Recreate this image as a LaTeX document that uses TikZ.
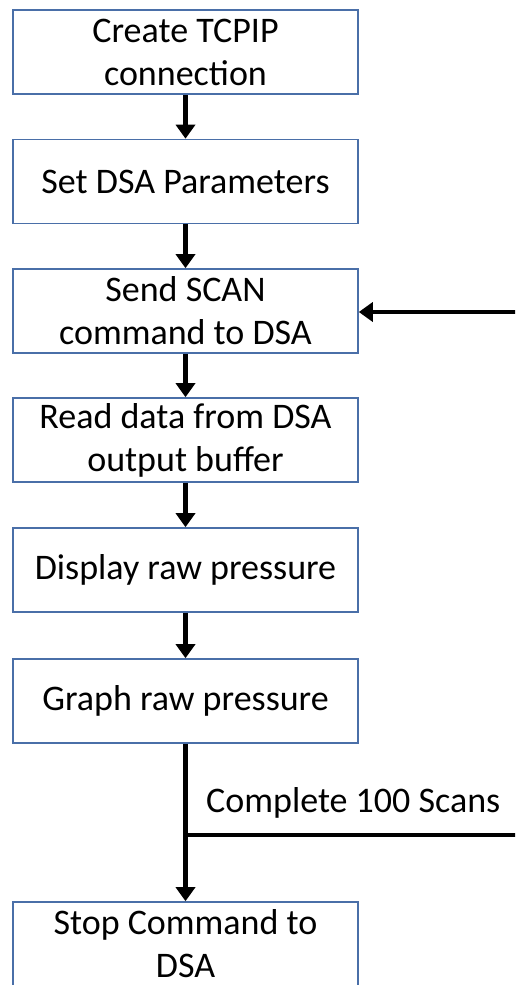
\documentclass[tikz,border=0pt]{standalone}
\usepackage{fontspec}
\setmainfont{Carlito}
\usetikzlibrary{arrows.meta}
\definecolor{boxblue}{HTML}{4A6FA8}
\tikzset{
  stepbox/.style={draw=boxblue, line width=1.6pt, fill=white, minimum width=345pt, minimum height=84pt, align=center, inner sep=0pt, font=\fontsize{36}{43}\selectfont},
  flow/.style={line width=4.5pt, -{Triangle[width=19pt,length=14pt]}},
  plain/.style={line width=4.5pt}
}
\begin{document}
\begin{tikzpicture}[x=1pt,y=-1pt]
\useasboundingbox (0,0) rectangle (515,985);
\clip (0,0) rectangle (515,985);
\node[stepbox] (b1) at (185.5,52) {Create TCPIP\\connection};
\node[stepbox] (b2) at (185.5,181.5) {Set DSA Parameters};
\node[stepbox] (b3) at (185.5,311) {Send SCAN\\command to DSA};
\node[stepbox] (b4) at (185.5,440) {Read data from DSA\\output buffer};
\node[stepbox] (b5) at (185.5,570) {Display raw pressure};
\node[stepbox] (b6) at (185.5,701) {Graph raw pressure};
\node[stepbox] (b7) at (185.5,944) {Stop Command to\\DSA};
\coordinate (split) at (185.5,835);
\coordinate (rbot) at (520,835);
\coordinate (rtop) at (520,312);
\node[anchor=west, font=\fontsize{36}{43}\selectfont, inner sep=0pt] (lbl) at (206,803) {Complete 100 Scans};
\draw[flow] (b1) -- (b2);
\draw[flow] (b2) -- (b3);
\draw[flow] (b3) -- (b4);
\draw[flow] (b4) -- (b5);
\draw[flow] (b5) -- (b6);
\draw[flow] (b6) -- (b7);
\draw[plain] (split) -- (rbot);
\draw[flow] (rtop) -- (b3.east |- rtop);
\end{tikzpicture}
\end{document}
